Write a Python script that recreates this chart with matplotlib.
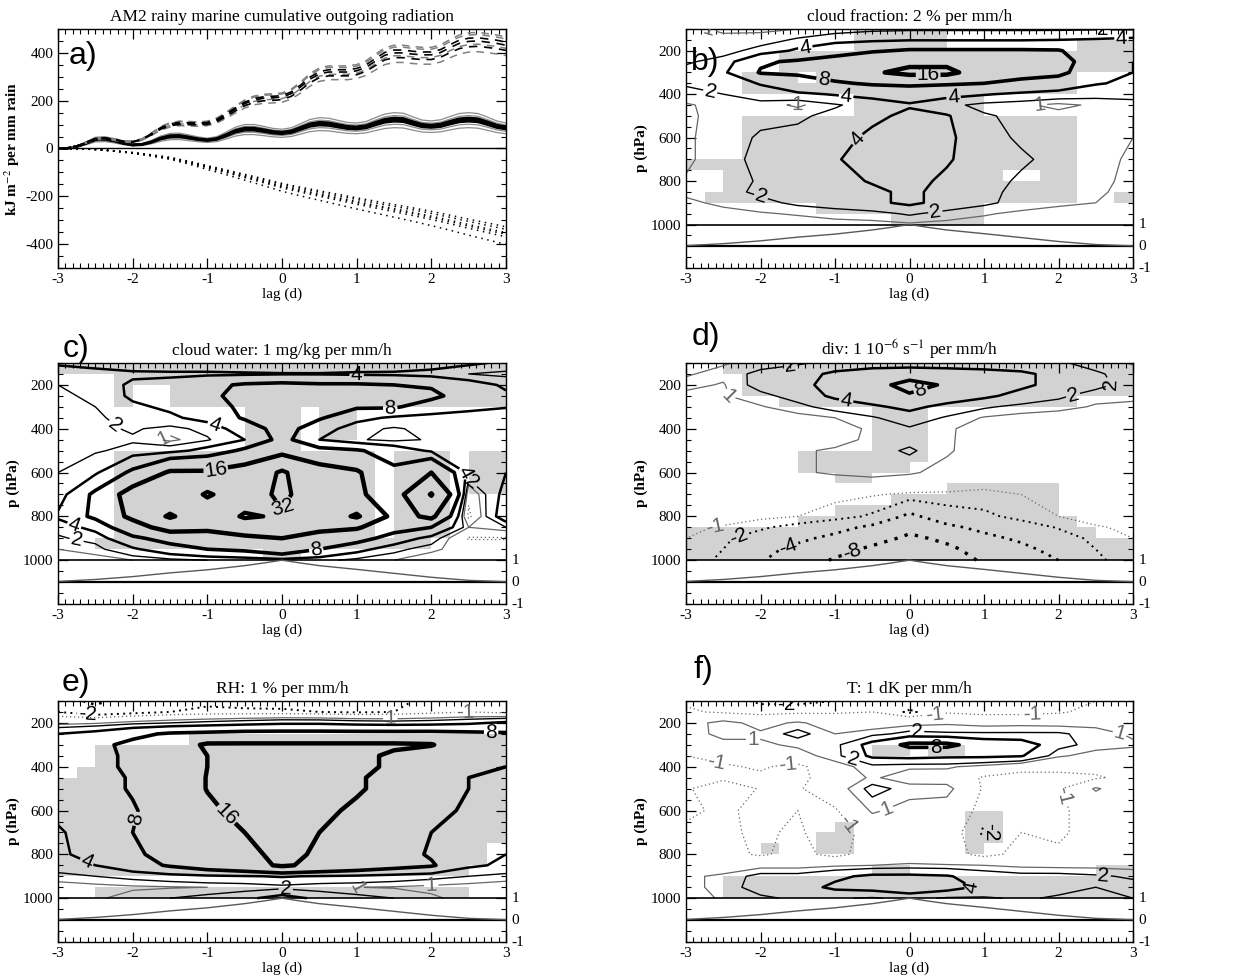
import numpy as np
import matplotlib
matplotlib.use("Agg")
import matplotlib.pyplot as plt
from matplotlib.colors import ListedColormap
from matplotlib.ticker import MultipleLocator
import matplotlib.transforms as mtransforms

plt.rcParams['font.family'] = ['Liberation Serif', 'DejaVu Serif']
plt.rcParams['mathtext.fontset'] = 'stix'
plt.rcParams['axes.unicode_minus'] = False

# ---------------- panel a: cumulative outgoing radiation ----------------
lag_fine = np.arange(-3, 3.001, 0.125)
lag_coarse = np.arange(-3, 3.001, 0.25)

solid_mean = [0, 1, 8, 22, 38, 40, 33, 22, 15, 17, 27, 42, 51, 52, 46, 39, 35,
              40, 55, 72, 81, 81, 75, 68, 65, 70, 84, 98, 104, 102, 95, 88, 86,
              91, 104, 116, 121, 119, 107, 96, 93, 97, 108, 118, 121, 118, 106, 93, 86]
dashed_mean = [0, 2, 10, 25, 40, 43, 38, 30, 28, 38, 60, 85, 100, 106, 105, 103, 106,
               118, 140, 165, 188, 203, 210, 212, 215, 230, 258, 290, 312, 320, 320, 320, 325,
               340, 365, 390, 400, 400, 395, 392, 392, 402, 422, 440, 448, 450, 445, 440, 432]
dotted_mean = [0, -1, -4, -10, -18, -28, -40, -57, -77, -96, -116, -136, -157,
               -174, -190, -206, -222, -237, -252, -267, -283, -300, -318, -335, -352]

solid_black_scale = [0.94, 1.0, 1.06]
solid_gray_scale = [0.72, 0.84, 1.14, 1.24]
dashed_black_scale = [0.95, 1.0, 1.03]
dashed_gray_scale = [0.9, 0.97, 1.06, 1.08]
dotted_scale = [0.93, 0.96, 1.0, 1.02, 1.05, 1.14]

# ---------------- panels b-f: lag / pressure composites ----------------
lag_grid = np.arange(-3, 3.001, 0.5)
p_grid = [100, 150, 200, 250, 300, 350, 400, 450, 500, 600, 700, 800, 850, 900, 950, 1000]

precip_lag = [-3, -2.5, -2, -1.5, -1, -0.5, -0.25, 0, 0.25, 0.5, 1, 1.5, 2, 2.5, 3]
precip_norm = [0.03, 0.12, 0.25, 0.42, 0.56, 0.75, 0.87, 1.0, 0.87, 0.75, 0.58, 0.40, 0.22, 0.08, 0.02]

cloud_frac = [
    [1.3, 0.8, 0.8, 1.0, 1.3, 1.6, 1.7, 1.7, 1.7, 1.7, 1.7, 1.8, 1.8],
    [1.5, 1.3, 1.4, 2.2, 3.0, 3.5, 3.8, 3.8, 3.8, 3.8, 4.0, 4.2, 4.5],
    [1.6, 1.5, 2.5, 4.5, 6.5, 7.5, 8.5, 8.5, 8.5, 8.5, 8.3, 5.5, 4.5],
    [1.8, 2.5, 7.5, 8.5, 9.5, 12, 14, 14, 11, 10, 9.5, 6, 4],
    [2.5, 3.5, 8.3, 8.5, 10, 15, 18, 18, 12, 9.5, 9, 5.5, 4],
    [2.2, 2.5, 4.2, 6.5, 7.5, 8.5, 9, 8.5, 8, 7, 6, 4.2, 3.5],
    [1.5, 2.0, 2.8, 3.5, 4.2, 4.8, 5.0, 4.8, 4.2, 3.5, 3.0, 2.5, 2.5],
    [0.9, 1.3, 1.5, 0.8, 1.8, 2.8, 3.8, 2.5, 1.5, 1.2, 0.7, 1.2, 1.5],
    [0.9, 1.2, 1.6, 1.7, 2.5, 3.5, 4.5, 4.2, 2.2, 1.6, 1.4, 1.2, 1.0],
    [0.9, 1.3, 2.2, 2.5, 3.2, 4.5, 5.0, 4.5, 2.5, 1.8, 1.5, 1.3, 1.0],
    [0.8, 1.6, 2.3, 2.6, 3.8, 5.0, 5.5, 4.3, 2.6, 2.2, 1.6, 1.2, 0.9],
    [1.1, 1.6, 2.1, 2.6, 3.2, 4.2, 4.8, 3.5, 2.5, 1.8, 1.4, 1.2, 0.8],
    [1.2, 1.5, 2.3, 2.5, 3.0, 3.5, 4.5, 3.2, 2.4, 1.6, 1.3, 1.1, 0.8],
    [0.8, 1.2, 1.6, 2.3, 2.7, 3.5, 4.5, 3.2, 2.3, 1.5, 1.2, 1.0, 0.8],
    [0.5, 0.7, 0.9, 1.1, 1.4, 1.5, 2.2, 1.5, 1.1, 0.8, 0.6, 0.5, 0.5],
    [0.3, 0.3, 0.4, 0.5, 0.6, 0.7, 0.8, 0.7, 0.6, 0.5, 0.4, 0.3, 0.3],
]
cloud_water = [
    [4.5, 5, 5.5, 6, 6, 6.5, 6.5, 6.5, 6, 6, 5.5, 4.5, 3.5],
    [2.2, 3.0, 3.5, 3.5, 3.5, 3.6, 3.8, 3.8, 3.6, 3.5, 3.0, 2.0, 1.5],
    [2.0, 2.5, 4.5, 5.0, 7, 8.5, 9, 8.5, 8.5, 8, 7.5, 5.5, 3.5],
    [1.8, 2.2, 4.5, 5.5, 7, 9.5, 14, 11, 10, 9.5, 9, 6, 4.5],
    [1.6, 2.0, 3.5, 4.5, 6, 9, 12, 9, 8.5, 8.5, 6, 5, 4.2],
    [1.5, 1.8, 2.5, 3.5, 5, 8.5, 11, 8.5, 5, 3.5, 3, 2.5, 2.2],
    [1.3, 1.6, 2.2, 1.5, 2.5, 5.5, 10, 5.5, 2.5, 1.8, 2.5, 2.2, 2.0],
    [1.5, 1.4, 1.8, 0.7, 1.8, 4, 9.5, 4, 2.2, 1.5, 2.2, 2.3, 2.2],
    [1.6, 1.8, 2.5, 3, 5, 9, 12, 9.5, 8.5, 6, 3.5, 2.5, 2.5],
    [2.0, 3.5, 9, 17, 17, 20, 34, 20, 17, 9, 16, 3, 4],
    [2.5, 9, 20, 18, 34, 22, 36, 20, 18, 10, 33, -0.5, 5],
    [4.5, 9, 18, 34, 20, 34, 30, 22, 34, 12, 18, -1.5, 6],
    [2.5, 5, 12, 20, 18, 22, 30, 18, 17, 10, 8, 1, 2],
    [1.8, 2.5, 7, 10, 12, 14, 16, 13, 10, 6, 3, -1.2, -1.2],
    [1.0, 1.5, 3.5, 6, 8, 9, 12, 8, 5, 2.5, 1.2, 0.5, 0.5],
    [0.4, 0.5, 1, 1.5, 2, 2.5, 3, 2.5, 1.5, 1, 0.5, 0.3, 0.3],
]
divergence = [
    [0.6, 0.9, 1.4, 1.8, 2.4, 2.6, 2.6, 2.6, 2.6, 2.4, 2.2, 1.5, 0.9],
    [0.9, 1.3, 2.4, 3.0, 4.5, 5.5, 6.0, 5.5, 5.0, 4.5, 3.2, 2.2, 1.4],
    [1.3, 0.9, 2.6, 3.2, 5.0, 6.5, 9.5, 7.5, 5.5, 4.5, 3.2, 2.5, 1.3],
    [0.7, 0.9, 1.6, 2.6, 4.5, 5.5, 7.5, 5.5, 4.5, 3.2, 2.3, 1.3, 1.2],
    [0.4, 0.5, 0.9, 1.6, 2.6, 3.6, 4.6, 3.3, 2.2, 1.6, 1.3, 0.9, 0.8],
    [0.2, 0.3, 0.4, 0.6, 1.0, 1.8, 3.0, 1.8, 0.9, 0.6, 0.5, 0.4, 0.4],
    [0.1, 0.2, 0.2, 0.3, 0.5, 1.2, 1.8, 1.2, 0.4, 0.3, 0.2, 0.2, 0.2],
    [0.0, 0.0, 0.1, 0.2, 0.5, 1.3, 1.6, 1.2, 0.3, 0.2, 0.1, 0.0, 0.0],
    [0.0, 0.0, 0.1, 0.8, 1.2, 1.5, 2.2, 1.2, 0.2, 0.0, 0.0, 0.0, 0.0],
    [0.0, 0.0, 0.0, 0.8, 1.2, 1.5, 1.2, 0.5, 0.0, 0.0, 0.0, 0.0, 0.0],
    [-0.2, -0.3, -0.5, -0.6, -0.7, -0.9, -1.2, -1.2, -1.3, -1.0, -0.7, -0.5, -0.4],
    [-0.4, -0.5, -0.7, -1.0, -1.5, -2.2, -4.5, -2.8, -2.3, -1.6, -1.0, -0.6, -0.4],
    [-0.8, -1.1, -1.8, -2.5, -3.2, -4.5, -6.5, -4.5, -3.4, -2.7, -1.9, -1.1, -0.8],
    [-1.0, -1.8, -2.6, -3.5, -4.6, -6.0, -9.0, -7.0, -4.6, -3.6, -2.6, -1.7, -1.0],
    [-1.3, -2.0, -3.3, -4.6, -6.2, -9.0, -11, -9.0, -6.2, -4.6, -3.2, -2.0, -1.3],
    [-1.5, -2.2, -3.8, -5.5, -8.5, -10, -12, -10, -7.5, -5.5, -4.0, -2.2, -1.5],
]
rel_hum = [
    [-3.0, -4.5, -3.0, -2.5, -2.2, -2.4, -2.5, -2.5, -2.5, -2.2, -1.8, -1.3, -1.2],
    [-2.0, -3.0, -2.5, -2.0, -1.8, -1.8, -1.8, -2.0, -2.2, -2.0, -1.5, -1.0, -1.5],
    [0.5, 0.8, 1.5, 2.0, 2.5, 3.0, 3.5, 3.5, 3.0, 2.8, 3.0, 3.5, 4.5],
    [4.0, 5.0, 7.0, 8.5, 9.0, 9.5, 9.5, 9.5, 9.5, 9.5, 9.5, 9.0, 8.5],
    [4.5, 7.0, 9.0, 12, 17, 17, 17, 17, 17, 17, 16.5, 10, 9.0],
    [5.0, 6.5, 9.0, 12, 16, 18, 18, 18, 17.5, 15, 11, 9.5, 8.5],
    [5.0, 6.5, 9.0, 12, 16, 18, 18, 18, 17.5, 15, 11, 9.5, 8.0],
    [4.5, 6.0, 8.5, 12, 16.2, 18, 19, 18, 17, 13, 10, 8.0, 7.0],
    [4.5, 6.0, 8.5, 12, 16.2, 18, 19, 18, 17, 13, 10, 8.0, 7.0],
    [5.0, 6.0, 7.5, 11, 15, 17.5, 19, 18, 14.5, 11, 9.0, 7.5, 6.5],
    [3.5, 6.0, 8.0, 10, 13, 16, 20, 16, 13, 10, 8.0, 6.0, 5.0],
    [3.5, 5.0, 7.0, 10, 12, 14, 18, 15, 12, 10, 7.5, 5.0, 4.0],
    [3.0, 4.0, 6.0, 8.5, 11, 13, 17, 14, 12, 10, 8.5, 4.5, 3.5],
    [1.5, 2.0, 2.5, 3.0, 3.5, 3.8, 4.2, 3.8, 3.5, 3.0, 2.5, 2.0, 1.5],
    [0.5, 0.6, 0.8, 0.9, 1.0, 1.1, 1.5, 1.1, 1.0, 0.9, 0.7, 0.5, 0.4],
    [0.5, 0.8, 1.5, 2.0, 2.5, 3.5, 5.0, 3.5, 2.5, 2.0, 1.2, 0.6, 0.5],
]
temperature = [
    [-1.2, -1.5, -2.2, -2.3, -2.0, -1.5, -1.2, -1.5, -1.5, -1.8, -1.5, -1.0, -0.6],
    [-0.8, -1.2, -1.5, -1.3, -1.2, -1.0, -2.2, -1.2, -1.5, -1.5, -1.2, -0.5, -0.3],
    [0.3, 1.5, 0.5, 1.2, 0.3, 0.3, 0.5, 0.8, 0.5, 0.6, 0.5, 0.6, 0.5],
    [0.2, 1.5, 1.2, 2.5, 1.0, 1.5, 2.5, 2.2, 2.2, 2.2, 2.2, 1.5, 0.8],
    [-0.5, 0.5, 0.8, 1.2, 1.5, 5.0, 9.0, 9.0, 6.0, 5.5, 2.5, 1.5, 1.2],
    [-1.0, -0.5, -0.3, 0.5, 1.5, 4.5, 4.8, 4.5, 4.5, 4.2, 1.2, 0.5, 0.3],
    [-1.2, -1.2, -0.8, -1.5, 0.5, 1.5, 1.2, 1.2, 0.5, -0.5, -0.8, -0.5, -0.2],
    [-1.2, -1.5, -1.3, -1.5, 0.0, 1.2, 0.3, 0.2, -1.2, -1.5, -1.2, -1.2, -0.5],
    [-1.3, 0.5, -1.2, -1.2, 0.2, 2.5, 1.5, 1.5, -1.2, -1.4, -1.2, 1.2, -0.3],
    [-1.2, -0.8, -1.3, -1.0, -1.2, 1.2, 0.5, 0.2, -1.5, -1.2, -1.2, -0.5, -0.3],
    [-0.8, -0.8, -1.2, -0.8, -1.8, -0.3, 0.0, -0.2, -2.2, -1.0, -1.2, -0.5, -0.2],
    [-1.0, -0.5, -1.2, -0.5, -1.5, -0.2, 0.0, -0.3, -1.5, -0.5, -0.8, -0.3, -0.2],
    [0.2, 0.3, 0.5, 0.5, 0.8, 1.0, 1.2, 1.1, 1.0, 0.7, 0.6, 0.6, 0.5],
    [0.8, 1.2, 2.5, 2.5, 3.5, 4.5, 4.5, 4.2, 3.0, 2.5, 2.5, 2.2, 1.8],
    [0.5, 1.5, 2.5, 3.0, 4.5, 5.0, 6.0, 5.0, 3.5, 2.5, 2.5, 2.0, 2.5],
    [0.3, 1.2, 1.8, 2.2, 2.2, 1.8, 2.5, 1.8, 1.8, 2.2, 1.8, 1.8, 2.0],
]

# significance shading, 0.25 d x 50 hPa boxes (rows from 100 hPa down)
mask_lag_edges = np.arange(-3, 3.001, 0.25)
mask_p_edges = np.arange(100, 1001, 50)
cloud_frac_sig = [
    "000000000111110000000000", "000000000111110000000111", "000001111111111111111111",
    "000001111111111111111111", "000111011111111111111000", "000111111111111111111000",
    "000000000111111100000000", "000000000111111100000000", "000111111111111111111000",
    "000111111111111111111000", "000111111111111111111000", "000111111111111111111000",
    "111111111111111111111000", "001111111111111110011000", "001111111111111111111000",
    "011111111111111111111001", "000000011111111100000000", "000000000001111100000000",
]
cloud_water_sig = [
    "111111111111111111111111", "000111111111111111111111", "000100111111111111111111",
    "000100111111111111111111", "000000000011101100000000", "000000000011101100000000",
    "000000000011101100000000", "000000000011100000000000", "000111111111111110111011",
    "000111111111111110111011", "000111111111111110111011", "000111111111111110111011",
    "000111111111111110111000", "000111111111111110111000", "000111111111111110111000",
    "000111111111111110111000", "001111111111111111110000", "000000000001100000000000",
]
divergence_sig = [
    "001111111111111111111111", "000111111111111111111111", "000111111111111111111111",
    "000001111111111111111000", "000000000011100000000000", "000000000011100000000000",
    "000000000011100000000000", "000000000011100000000000", "000000111111100000000000",
    "000000111111000000000000", "000000001100000000000000", "000000000000001111110000",
    "000000000001111111110000", "000000001111111111110000", "000000111111111111111000",
    "111111111111111111111100", "111111111111111111111111", "111111111111111111111111",
]
rel_hum_sig = [
    "000000000000000000000000", "000000000000000000000000", "000000000000000000000000",
    "000000011111111111111111", "001111111111111111111111", "001111111111111111111111",
    "011111111111111111111111", "111111111111111111111111", "111111111111111111111111",
    "111111111111111111111111", "111111111111111111111111", "111111111111111111111111",
    "111111111111111111111111", "111111111111111111111110", "111111111111111111111110",
    "111111111111111111111100", "000000000000000000000000", "001111111111111111111100",
]
temperature_sig = [
    "000000000000000000000000", "000000000000000000000000", "000000000000000000000000",
    "000000000000000000000000", "000000000011011000000000", "000000000000000000000000",
    "000000000000000000000000", "000000000000000000000000", "000000000000000000000000",
    "000000000000000000000000", "000000000000000110000000", "000000001000000110000000",
    "000000011000000110000000", "000010011000000100000000", "000000000000000000000000",
    "000000000011000000000011", "001111111111111111111111", "001111111111111111111111",
]

panels = [
    ("cloud fraction: 2 % per mm/h", cloud_frac, cloud_frac_sig, "b)", (0.043, 0.86)),
    ("cloud water: 1 mg/kg per mm/h", cloud_water, cloud_water_sig, "c)", (0.04, 1.058)),
    ("div: 1 10$^{-6}$ s$^{-1}$ per mm/h", divergence, divergence_sig, "d)", (0.045, 1.108)),
    ("RH: 1 % per mm/h", rel_hum, rel_hum_sig, "e)", (0.04, 1.075)),
    ("T: 1 dK per mm/h", temperature, temperature_sig, "f)", (0.038, 1.13)),
]

# where the contour labels sit (lag, hPa)
label_spots = {
    "b)": [(-2.7, 110), (-1.4, 180), (2.6, 108), (2.85, 190), (-1.15, 320), (0.25, 300),
           (-0.85, 405), (-2.7, 430), (-1.5, 445), (0.6, 450), (1.75, 445), (-0.65, 620),
           (-1.95, 820), (0.35, 950)],
    "c)": [(1.0, 150), (-0.85, 330), (1.45, 320), (-2.3, 410), (-1.6, 430), (-0.9, 560),
           (0.2, 800), (0.45, 930), (-2.75, 810), (-2.75, 905), (2.6, 620), (2.6, 520)],
    "d)": [(-1.6, 115), (-2.5, 280), (-0.85, 270), (0.15, 225), (2.15, 185), (2.85, 165),
           (-2.6, 880), (-2.3, 890), (-1.65, 915), (-0.8, 940)],
    "e)": [(-2.6, 150), (1.45, 180), (2.45, 140), (2.8, 265), (-2.05, 630), (-0.75, 620),
           (-2.65, 860), (0.05, 960), (1.0, 960), (2.0, 955)],
    "f)": [(-1.65, 120), (0.35, 180), (0.1, 250), (1.65, 160), (-2.1, 250), (-1.65, 350),
           (-2.6, 400), (0.35, 310), (-0.75, 350), (2.8, 280), (-0.3, 600), (-0.85, 670),
           (1.15, 720), (2.0, 540), (0.95, 935), (2.6, 920)],
}

contour_levels = [-8, -4, -2, -1, 1, 2, 4, 8, 16, 32]
level_width = {1: 0.9, 2: 1.0, 4: 1.8, 8: 2.6, 16: 3.2, 32: 3.0}

sans = ['Liberation Sans', 'DejaVu Sans']

fig = plt.figure(figsize=(12.56, 9.8), dpi=100)
W, H = 1256.0, 980.0
cols_px = [(58, 506), (686, 1133)]
rows_px = [(29, 268), (363, 604), (701, 942)]


def make_ax(r, c):
    x0, x1 = cols_px[c]
    y0, y1 = rows_px[r]
    return fig.add_axes([x0 / W, 1 - y1 / H, (x1 - x0) / W, (y1 - y0) / H])


def style_ax(ax):
    ax.set_xlim(-3, 3)
    ax.xaxis.set_major_locator(MultipleLocator(1))
    ax.xaxis.set_minor_locator(MultipleLocator(0.1))
    ax.tick_params(which='both', direction='in', top=True, right=True, labelsize=11)
    ax.tick_params(which='major', length=7, width=0.9)
    ax.tick_params(which='minor', length=3.5, width=0.8)
    ax.set_xlabel("lag (d)", fontsize=11, labelpad=1)
    for s in ax.spines.values():
        s.set_linewidth(1.0)


# panel a
ax = make_ax(0, 0)
for k in solid_gray_scale:
    ax.plot(lag_fine, np.array(solid_mean) * k, color='0.55', lw=0.9)
for k in solid_black_scale:
    ax.plot(lag_fine, np.array(solid_mean) * k, color='black', lw=1.8)
for k in dashed_gray_scale:
    ax.plot(lag_fine, np.array(dashed_mean) * k, color='0.5', lw=1.1, dashes=(5, 4))
for k in dashed_black_scale:
    ax.plot(lag_fine, np.array(dashed_mean) * k, color='black', lw=1.2, dashes=(5, 4))
for k in dotted_scale:
    ax.plot(lag_coarse, np.array(dotted_mean) * k, color='black', lw=1.1, dashes=(1, 3))
ax.axhline(0, color='black', lw=1.0)
ax.set_ylim(-500, 500)
ax.yaxis.set_major_locator(MultipleLocator(200))
ax.yaxis.set_minor_locator(MultipleLocator(50))
style_ax(ax)
ax.set_ylabel("kJ m$^{-2}$ per mm rain", fontsize=11, fontweight='bold', labelpad=2)
ax.set_title("AM2 rainy marine cumulative outgoing radiation", fontsize=12.5, pad=6)
ax.text(0.056, 0.887, "a)", transform=ax.transAxes, fontsize=23, family=sans,
        ha='center', va='center')

# panels b-f
gray_cmap = ListedColormap(['#d2d2d2'])
positions = [(0, 1), (1, 0), (1, 1), (2, 0), (2, 1)]
for (title, field, sig, letter, lxy), (r, c) in zip(panels, positions):
    ax = make_ax(r, c)
    sig_arr = np.array([[int(ch) for ch in row] for row in sig])
    ax.pcolormesh(mask_lag_edges, mask_p_edges, np.ma.masked_equal(sig_arr, 0),
                  cmap=gray_cmap, vmin=0, vmax=1, shading='flat', zorder=0)
    z = np.array(field, dtype=float)
    cols = ['0.4' if abs(l) == 1 else 'black' for l in contour_levels]
    lws = [level_width.get(abs(l), 1.0) if l > 0 else 0.9 + 0.5 * np.log2(abs(l))
           for l in contour_levels]
    lss = ['solid' if l > 0 else (0, (1, 2.2)) for l in contour_levels]
    cs = ax.contour(lag_grid, p_grid, z, levels=contour_levels, colors=cols,
                    linewidths=lws, linestyles=lss, zorder=2)
    ax.set_xlim(-3, 3)
    ax.set_ylim(1200, 100)
    labels = ax.clabel(cs, fmt='%d', fontsize=15, inline=True, inline_spacing=2,
                       manual=label_spots[letter])
    for t in labels:
        t.set_fontfamily(sans)
    # precipitation strip below 1000 hPa
    ax.axhline(1000, color='black', lw=1.2)
    ax.axhline(1100, color='black', lw=1.6)
    ax.plot(precip_lag, 1100 - 100 * np.array(precip_norm), color='0.35', lw=1.0)
    ax.set_yticks([200, 400, 600, 800, 1000])
    ax.yaxis.set_minor_locator(MultipleLocator(50))
    style_ax(ax)
    ax.set_ylabel("p (hPa)", fontsize=11, fontweight='bold', labelpad=2)
    ax.set_title(title, fontsize=12.5, pad=6)
    tr = mtransforms.blended_transform_factory(ax.transAxes, ax.transData)
    for val, pv in zip(["1", "0", "-1"], [1000, 1100, 1200]):
        ax.text(1.012, pv, val, transform=tr, fontsize=11, ha='left', va='center')
    ax.text(lxy[0], lxy[1], letter, transform=ax.transAxes, fontsize=23, family=sans,
            ha='center', va='center', clip_on=False)

fig.savefig("out.png", dpi=100)
